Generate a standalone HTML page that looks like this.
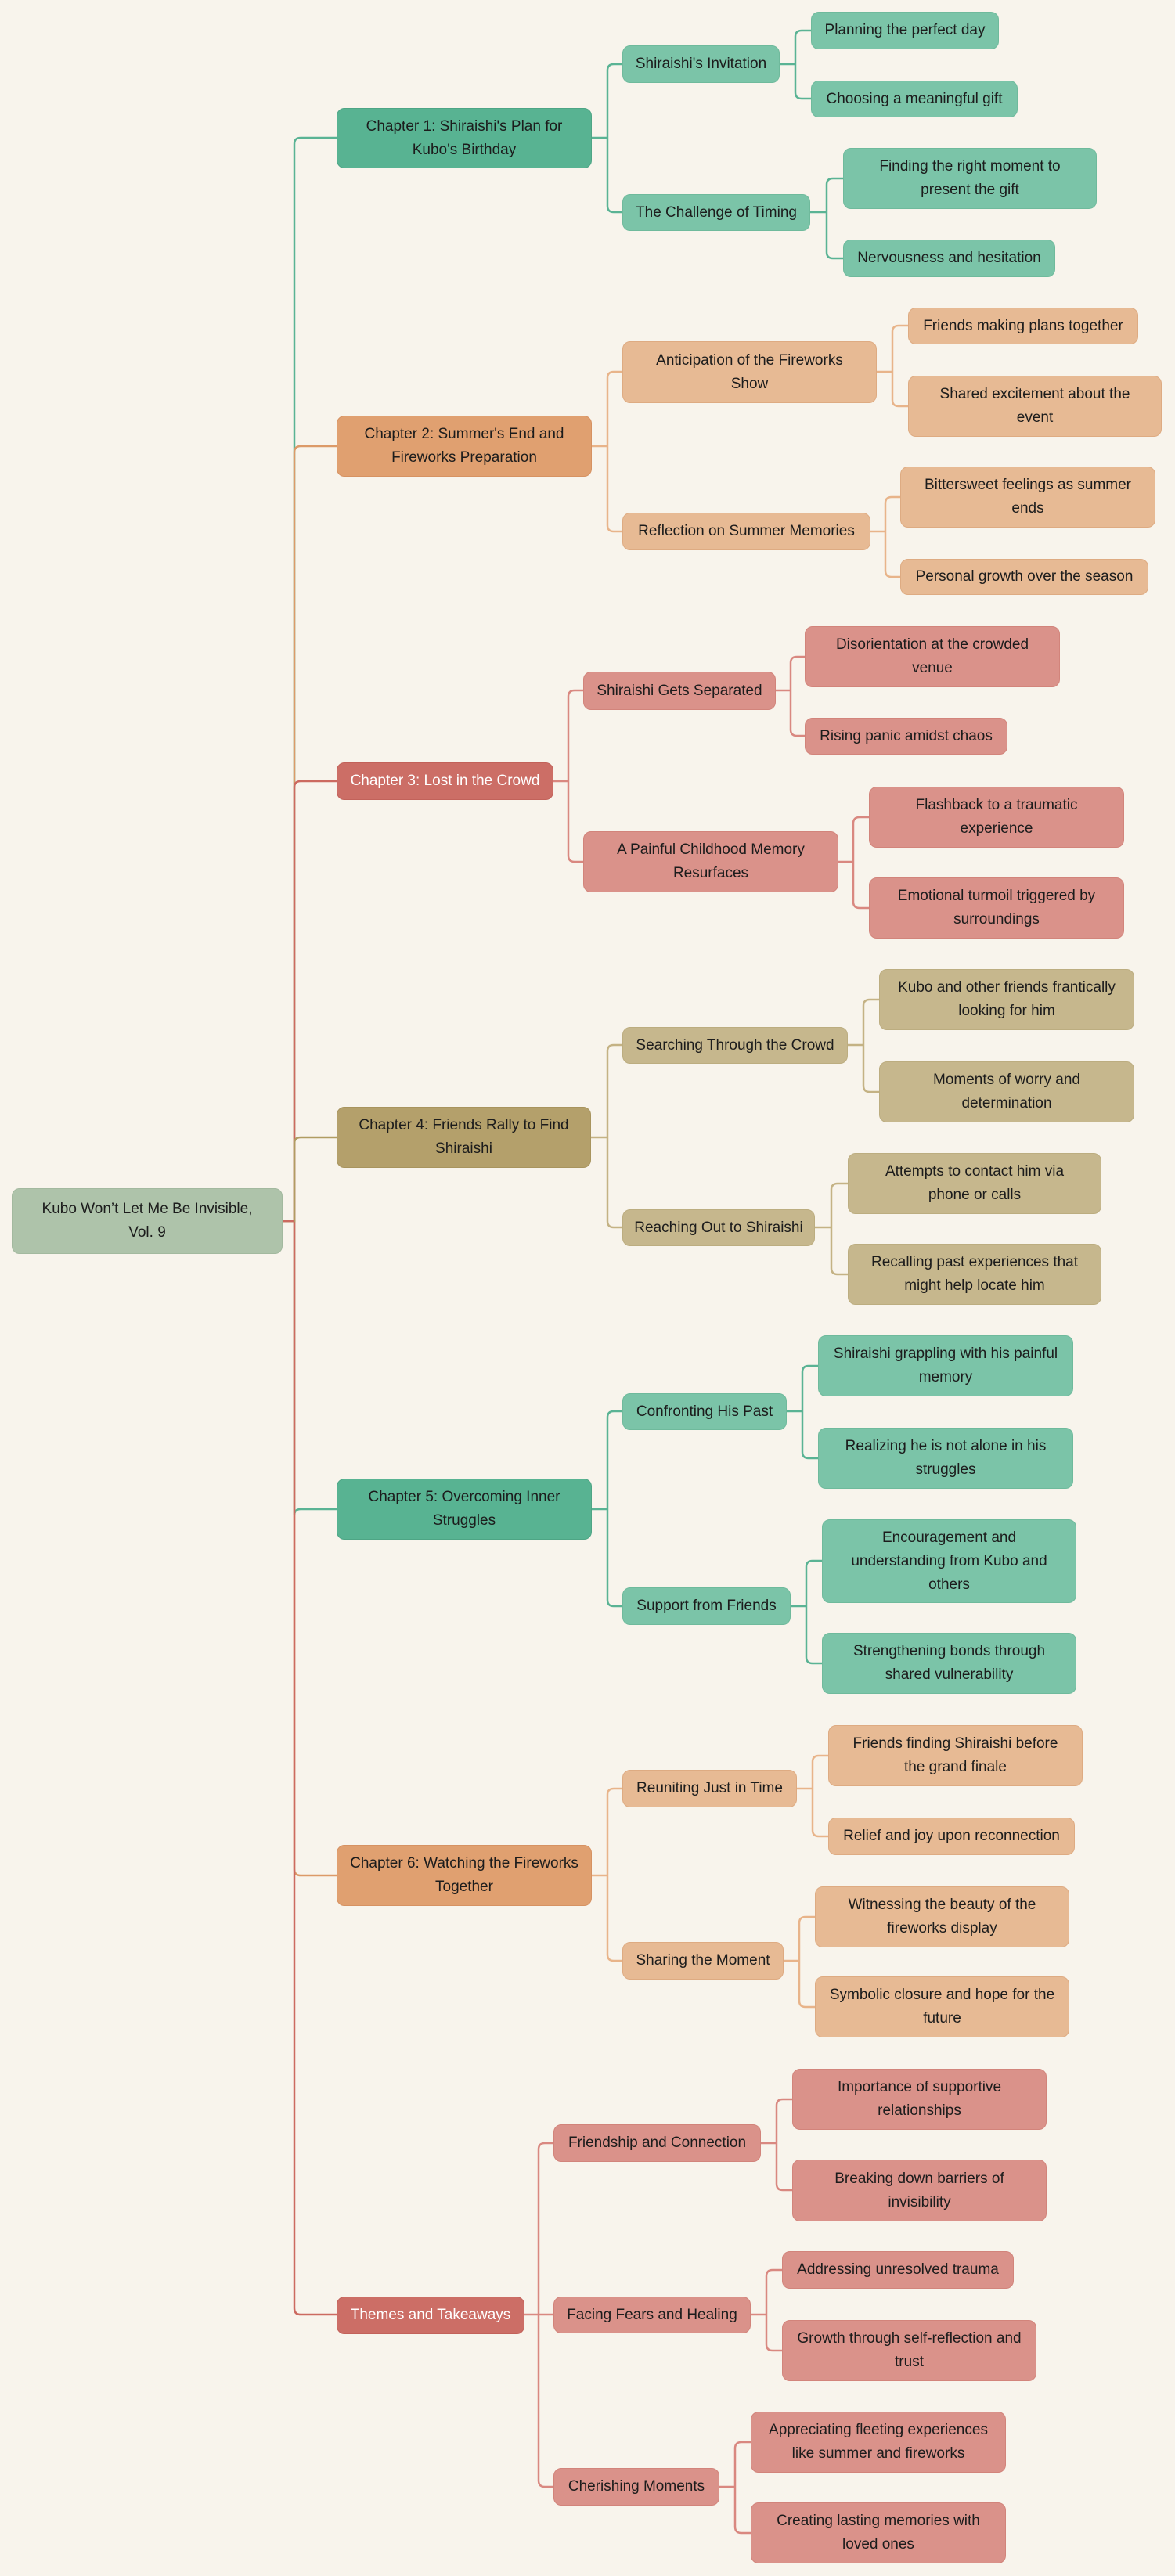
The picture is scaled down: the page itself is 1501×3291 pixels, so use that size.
<!DOCTYPE html>
<html><head><meta charset="utf-8"><style>
body{margin:0;background:#f8f4ec;width:1501px;height:3291px;position:relative;overflow:hidden;font-family:"Liberation Sans",sans-serif}
.n{position:absolute;box-sizing:border-box;display:flex;align-items:center;justify-content:center;text-align:center;border-radius:10px;font-size:19px;line-height:30px;color:#1c1c1c;padding:0 4px;white-space:nowrap}
.g1{background:#58b392;border:1.5px solid #4ea585}.g2{background:#7bc4a8;border:1.5px solid #6fba9c}
.o1{background:#e0a070;border:1.5px solid #d69262}.o2{background:#e7ba94;border:1.5px solid #deab82}
.r1{background:#cc6e66;border:1.5px solid #c2625a;color:#fff}.r2{background:#da928a;border:1.5px solid #d2847b}
.y1{background:#b4a06b;border:1.5px solid #a8945e}.y2{background:#c6b78d;border:1.5px solid #bcad80}
.root{background:#aec3aa;border:1.5px solid #a3b99f}
svg{position:absolute;left:0;top:0}
path{fill:none;stroke-width:2.5}
</style></head><body>
<svg width="1501" height="3291">
<g stroke="#5ab394">
<path d="M361 1560H376V184Q376 176 384 176H430"/>
<path d="M756 176H776V90Q776 82 784 82H795M776 176V263Q776 271 784 271H795"/>
<path d="M996 82H1016V47Q1016 39 1024 39H1036M1016 82V118Q1016 126 1024 126H1036"/>
<path d="M1035 271H1056V236Q1056 228 1064 228H1077M1056 271V322Q1056 330 1064 330H1077"/>
<path d="M361 1560H376V1936Q376 1928 384 1928H430" />
<path d="M756 1928H776V1811Q776 1803 784 1803H795M776 1928V2044Q776 2052 784 2052H795"/>
<path d="M1005 1803H1025V1753Q1025 1745 1033 1745H1045M1025 1803V1855Q1025 1863 1033 1863H1045"/>
<path d="M1010 2052H1030V2002Q1030 1994 1038 1994H1050M1030 2052V2117Q1030 2125 1038 2125H1050"/>
</g>
<g stroke="#dc9a68">
<path d="M361 1560H376V578Q376 570 384 570H430"/>
<path d="M361 1560H376V2388Q376 2396 384 2396H430"/>
</g>
<g stroke="#e8b48a">
<path d="M756 570H776V483Q776 475 784 475H795M776 570V671Q776 679 784 679H795"/>
<path d="M1120 475H1140V424Q1140 416 1148 416H1160M1140 475V511Q1140 519 1148 519H1160"/>
<path d="M1112 679H1131V643Q1131 635 1139 635H1150M1131 679V729Q1131 737 1139 737H1150"/>
<path d="M756 2396H776V2293Q776 2285 784 2285H795M776 2396V2497Q776 2505 784 2505H795"/>
<path d="M1018 2285H1038V2251Q1038 2243 1046 2243H1058M1038 2285V2338Q1038 2346 1046 2346H1058"/>
<path d="M1001 2505H1021V2457Q1021 2449 1029 2449H1041M1021 2505V2556Q1021 2564 1029 2564H1041"/>
</g>
<g stroke="#cc6a60">
<path d="M361 1560H376V1006Q376 998 384 998H430"/>
<path d="M361 1560H376V2949Q376 2957 384 2957H430"/>
</g>
<g stroke="#d98880">
<path d="M707 998H726V890Q726 882 734 882H745M726 998V1093Q726 1101 734 1101H745"/>
<path d="M991 882H1010V847Q1010 839 1018 839H1028M1010 882V932Q1010 940 1018 940H1028"/>
<path d="M1071 1101H1090V1052Q1090 1044 1098 1044H1110M1090 1101V1152Q1090 1160 1098 1160H1110"/>
<path d="M670 2957H688V2746Q688 2738 696 2738H707M670 2957H707M688 2957V3169Q688 3177 696 3177H707"/>
<path d="M972 2738H992V2690Q992 2682 1000 2682H1012M992 2738V2790Q992 2798 1000 2798H1012"/>
<path d="M959 2957H979V2908Q979 2900 987 2900H999M979 2957V2995Q979 3003 987 3003H999"/>
<path d="M919 3177H939V3128Q939 3120 947 3120H959M939 3177V3228Q939 3236 947 3236H959"/>
</g>
<g stroke="#b09c62">
<path d="M361 1560H376V1461Q376 1453 384 1453H430"/>
</g>
<g stroke="#c4b284">
<path d="M755 1453H776V1343Q776 1335 784 1335H795M776 1453V1560Q776 1568 784 1568H795"/>
<path d="M1083 1335H1103V1285Q1103 1277 1111 1277H1123M1103 1335V1387Q1103 1395 1111 1395H1123"/>
<path d="M1041 1568H1062V1520Q1062 1512 1070 1512H1083M1062 1568V1620Q1062 1628 1070 1628H1083"/>
</g>
<path d="M361 1560H376" stroke="#cc6a60"/>
</svg>

<div class="n root" style="left:15px;top:1518px;width:346px;height:84px">Kubo Won’t Let Me Be Invisible,<br>Vol. 9</div>

<div class="n g1" style="left:430px;top:138px;width:326px;height:77px">Chapter 1: Shiraishi's Plan for<br>Kubo's Birthday</div>
<div class="n g2" style="left:795px;top:58px;width:201px;height:48px">Shiraishi's Invitation</div>
<div class="n g2" style="left:1036px;top:15px;width:240px;height:48px">Planning the perfect day</div>
<div class="n g2" style="left:1036px;top:103px;width:264px;height:47px">Choosing a meaningful gift</div>
<div class="n g2" style="left:795px;top:248px;width:240px;height:47px">The Challenge of Timing</div>
<div class="n g2" style="left:1077px;top:189px;width:324px;height:78px">Finding the right moment to<br>present the gift</div>
<div class="n g2" style="left:1077px;top:306px;width:271px;height:48px">Nervousness and hesitation</div>

<div class="n o1" style="left:430px;top:531px;width:326px;height:78px">Chapter 2: Summer's End and<br>Fireworks Preparation</div>
<div class="n o2" style="left:795px;top:436px;width:325px;height:79px">Anticipation of the Fireworks<br>Show</div>
<div class="n o2" style="left:1160px;top:393px;width:294px;height:47px">Friends making plans together</div>
<div class="n o2" style="left:1160px;top:480px;width:324px;height:78px">Shared excitement about the<br>event</div>
<div class="n o2" style="left:795px;top:655px;width:317px;height:48px">Reflection on Summer Memories</div>
<div class="n o2" style="left:1150px;top:596px;width:326px;height:78px">Bittersweet feelings as summer<br>ends</div>
<div class="n o2" style="left:1150px;top:714px;width:317px;height:46px">Personal growth over the season</div>

<div class="n r1" style="left:430px;top:974px;width:277px;height:48px">Chapter 3: Lost in the Crowd</div>
<div class="n r2" style="left:745px;top:858px;width:246px;height:49px">Shiraishi Gets Separated</div>
<div class="n r2" style="left:1028px;top:800px;width:326px;height:78px">Disorientation at the crowded<br>venue</div>
<div class="n r2" style="left:1028px;top:917px;width:259px;height:47px">Rising panic amidst chaos</div>
<div class="n r2" style="left:745px;top:1062px;width:326px;height:78px">A Painful Childhood Memory<br>Resurfaces</div>
<div class="n r2" style="left:1110px;top:1005px;width:326px;height:78px">Flashback to a traumatic<br>experience</div>
<div class="n r2" style="left:1110px;top:1121px;width:326px;height:78px">Emotional turmoil triggered by<br>surroundings</div>

<div class="n y1" style="left:430px;top:1414px;width:325px;height:78px">Chapter 4: Friends Rally to Find<br>Shiraishi</div>
<div class="n y2" style="left:795px;top:1312px;width:288px;height:47px">Searching Through the Crowd</div>
<div class="n y2" style="left:1123px;top:1238px;width:326px;height:78px">Kubo and other friends frantically<br>looking for him</div>
<div class="n y2" style="left:1123px;top:1356px;width:326px;height:78px">Moments of worry and<br>determination</div>
<div class="n y2" style="left:795px;top:1545px;width:246px;height:47px">Reaching Out to Shiraishi</div>
<div class="n y2" style="left:1083px;top:1473px;width:324px;height:78px">Attempts to contact him via<br>phone or calls</div>
<div class="n y2" style="left:1083px;top:1589px;width:324px;height:78px">Recalling past experiences that<br>might help locate him</div>

<div class="n g1" style="left:430px;top:1889px;width:326px;height:78px">Chapter 5: Overcoming Inner<br>Struggles</div>
<div class="n g2" style="left:795px;top:1780px;width:210px;height:47px">Confronting His Past</div>
<div class="n g2" style="left:1045px;top:1706px;width:326px;height:78px">Shiraishi grappling with his painful<br>memory</div>
<div class="n g2" style="left:1045px;top:1824px;width:326px;height:78px">Realizing he is not alone in his<br>struggles</div>
<div class="n g2" style="left:795px;top:2028px;width:215px;height:48px">Support from Friends</div>
<div class="n g2" style="left:1050px;top:1941px;width:325px;height:107px">Encouragement and<br>understanding from Kubo and<br>others</div>
<div class="n g2" style="left:1050px;top:2086px;width:325px;height:78px">Strengthening bonds through<br>shared vulnerability</div>

<div class="n o1" style="left:430px;top:2357px;width:326px;height:78px">Chapter 6: Watching the Fireworks<br>Together</div>
<div class="n o2" style="left:795px;top:2261px;width:223px;height:48px">Reuniting Just in Time</div>
<div class="n o2" style="left:1058px;top:2204px;width:325px;height:78px">Friends finding Shiraishi before<br>the grand finale</div>
<div class="n o2" style="left:1058px;top:2322px;width:315px;height:48px">Relief and joy upon reconnection</div>
<div class="n o2" style="left:795px;top:2481px;width:206px;height:48px">Sharing the Moment</div>
<div class="n o2" style="left:1041px;top:2410px;width:325px;height:78px">Witnessing the beauty of the<br>fireworks display</div>
<div class="n o2" style="left:1041px;top:2525px;width:325px;height:78px">Symbolic closure and hope for the<br>future</div>

<div class="n r1" style="left:430px;top:2934px;width:240px;height:48px">Themes and Takeaways</div>
<div class="n r2" style="left:707px;top:2714px;width:265px;height:48px">Friendship and Connection</div>
<div class="n r2" style="left:1012px;top:2643px;width:325px;height:78px">Importance of supportive<br>relationships</div>
<div class="n r2" style="left:1012px;top:2759px;width:325px;height:79px">Breaking down barriers of<br>invisibility</div>
<div class="n r2" style="left:707px;top:2934px;width:252px;height:47px">Facing Fears and Healing</div>
<div class="n r2" style="left:999px;top:2876px;width:296px;height:48px">Addressing unresolved trauma</div>
<div class="n r2" style="left:999px;top:2964px;width:325px;height:78px">Growth through self-reflection and<br>trust</div>
<div class="n r2" style="left:707px;top:3153px;width:212px;height:48px">Cherishing Moments</div>
<div class="n r2" style="left:959px;top:3081px;width:326px;height:78px">Appreciating fleeting experiences<br>like summer and fireworks</div>
<div class="n r2" style="left:959px;top:3197px;width:326px;height:78px">Creating lasting memories with<br>loved ones</div>
</body></html>
